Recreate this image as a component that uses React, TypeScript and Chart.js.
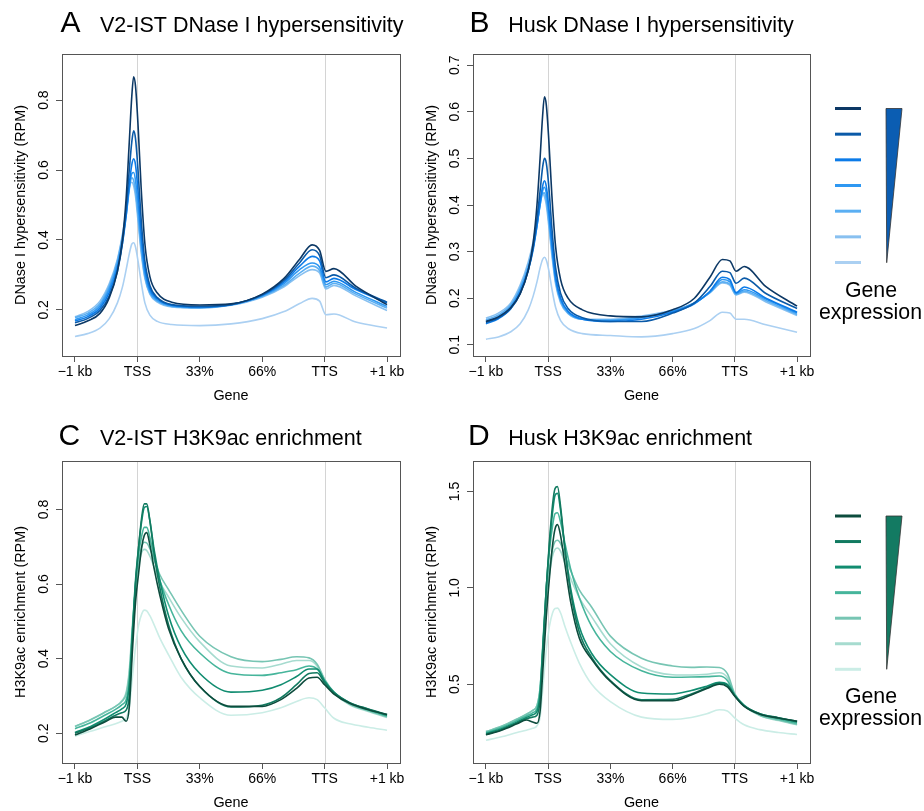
import React, { useEffect, useRef } from "react";
import { Chart, registerables } from "chart.js";
Chart.register(...registerables);

// ---------- data ----------
const xTickValues = [0, 1, 2, 3, 4, 5];
const xTickLabels = ["\u22121 kb", "TSS", "33%", "66%", "TTS", "+1 kb"];

// positions along the meta-gene (0 = -1 kb, 1 = TSS, 4 = TTS, 5 = +1 kb)
const dnasePos = [0, 0.2, 0.4, 0.55, 0.68, 0.76, 0.82, 0.87, 0.91, 0.94, 0.97, 1.01, 1.06, 1.12, 1.2, 1.32, 1.55, 2.0, 2.5, 3.0, 3.35, 3.6, 3.8, 3.92, 4.02, 4.15, 4.5, 5.0];
const h3k9Pos = [0, 0.25, 0.5, 0.65, 0.75, 0.82, 0.87, 0.92, 0.97, 1.02, 1.07, 1.11, 1.15, 1.2, 1.27, 1.36, 1.5, 1.7, 2.0, 2.5, 3.0, 3.3, 3.55, 3.75, 3.88, 4.0, 4.15, 4.4, 4.7, 5.0];

// A: V2-IST DNase I (highest -> lowest expression)
const v2Dnase1 = [0.155, 0.168, 0.19, 0.235, 0.31, 0.40, 0.52, 0.68, 0.81, 0.867, 0.84, 0.73, 0.55, 0.39, 0.295, 0.248, 0.222, 0.214, 0.217, 0.245, 0.29, 0.345, 0.386, 0.37, 0.31, 0.318, 0.268, 0.215];
const v2Dnase2 = [0.163, 0.175, 0.198, 0.24, 0.31, 0.39, 0.49, 0.6, 0.68, 0.712, 0.69, 0.6, 0.46, 0.34, 0.27, 0.235, 0.215, 0.21, 0.215, 0.243, 0.285, 0.335, 0.372, 0.355, 0.292, 0.3, 0.262, 0.222];
const v2Dnase3 = [0.168, 0.18, 0.205, 0.25, 0.32, 0.39, 0.47, 0.56, 0.615, 0.632, 0.615, 0.54, 0.42, 0.32, 0.26, 0.232, 0.213, 0.208, 0.215, 0.242, 0.28, 0.325, 0.353, 0.34, 0.28, 0.29, 0.258, 0.22];
const v2Dnase4 = [0.172, 0.185, 0.212, 0.26, 0.33, 0.4, 0.47, 0.545, 0.59, 0.593, 0.57, 0.5, 0.395, 0.305, 0.253, 0.228, 0.212, 0.207, 0.216, 0.24, 0.275, 0.315, 0.334, 0.322, 0.272, 0.282, 0.25, 0.21];
const v2Dnase5 = [0.178, 0.19, 0.218, 0.268, 0.34, 0.41, 0.48, 0.55, 0.578, 0.57, 0.54, 0.47, 0.375, 0.295, 0.248, 0.225, 0.21, 0.206, 0.214, 0.238, 0.27, 0.305, 0.325, 0.312, 0.265, 0.276, 0.245, 0.205];
const v2Dnase6 = [0.18, 0.195, 0.225, 0.275, 0.345, 0.415, 0.485, 0.55, 0.565, 0.555, 0.525, 0.455, 0.365, 0.29, 0.245, 0.222, 0.208, 0.205, 0.213, 0.236, 0.266, 0.298, 0.315, 0.305, 0.26, 0.27, 0.24, 0.198];
const v2Dnase7 = [0.124, 0.132, 0.148, 0.175, 0.22, 0.265, 0.315, 0.36, 0.388, 0.392, 0.38, 0.34, 0.28, 0.22, 0.185, 0.167, 0.158, 0.155, 0.16, 0.175, 0.195, 0.218, 0.233, 0.225, 0.186, 0.188, 0.165, 0.148];

// B: Husk DNase I
const huskDnase1 = [0.15, 0.16, 0.18, 0.21, 0.26, 0.32, 0.40, 0.5, 0.59, 0.632, 0.615, 0.54, 0.42, 0.31, 0.24, 0.2, 0.175, 0.162, 0.16, 0.175, 0.2, 0.245, 0.283, 0.28, 0.258, 0.268, 0.225, 0.183];
const huskDnase2 = [0.148, 0.158, 0.178, 0.21, 0.26, 0.31, 0.37, 0.43, 0.48, 0.5, 0.49, 0.44, 0.35, 0.265, 0.21, 0.178, 0.158, 0.15, 0.15, 0.168, 0.19, 0.225, 0.258, 0.255, 0.232, 0.243, 0.21, 0.178];
const huskDnase3 = [0.145, 0.156, 0.178, 0.212, 0.26, 0.305, 0.355, 0.405, 0.44, 0.452, 0.44, 0.395, 0.32, 0.245, 0.2, 0.172, 0.155, 0.15, 0.155, 0.17, 0.188, 0.215, 0.245, 0.24, 0.212, 0.224, 0.2, 0.17];
const huskDnase4 = [0.15, 0.16, 0.182, 0.218, 0.265, 0.31, 0.355, 0.4, 0.43, 0.438, 0.425, 0.38, 0.31, 0.24, 0.196, 0.17, 0.155, 0.152, 0.158, 0.172, 0.19, 0.213, 0.24, 0.235, 0.21, 0.218, 0.198, 0.168];
const huskDnase5 = [0.153, 0.164, 0.186, 0.222, 0.27, 0.315, 0.36, 0.4, 0.425, 0.426, 0.41, 0.365, 0.3, 0.235, 0.193, 0.168, 0.155, 0.153, 0.16, 0.172, 0.19, 0.212, 0.235, 0.23, 0.208, 0.215, 0.195, 0.165];
const huskDnase6 = [0.157, 0.168, 0.19, 0.228, 0.278, 0.322, 0.368, 0.41, 0.425, 0.418, 0.4, 0.355, 0.292, 0.23, 0.19, 0.167, 0.155, 0.155, 0.162, 0.174, 0.19, 0.212, 0.233, 0.228, 0.207, 0.213, 0.192, 0.163];
const huskDnase7 = [0.112, 0.117, 0.128, 0.145, 0.175, 0.205, 0.235, 0.265, 0.283, 0.288, 0.282, 0.26, 0.22, 0.18, 0.152, 0.135, 0.124, 0.12, 0.117, 0.124, 0.135, 0.152, 0.17, 0.168, 0.155, 0.155, 0.143, 0.127];

// C: V2-IST H3K9ac
const v2H3k1 = [0.195, 0.212, 0.232, 0.243, 0.243, 0.232, 0.27, 0.42, 0.55, 0.63, 0.7, 0.73, 0.738, 0.705, 0.64, 0.57, 0.48, 0.4, 0.325, 0.272, 0.272, 0.29, 0.32, 0.348, 0.35, 0.33, 0.305, 0.28, 0.263, 0.25];
const v2H3k2 = [0.2, 0.215, 0.235, 0.248, 0.255, 0.262, 0.3, 0.45, 0.6, 0.7, 0.78, 0.815, 0.815, 0.77, 0.68, 0.59, 0.49, 0.4, 0.325, 0.27, 0.275, 0.295, 0.33, 0.36, 0.362, 0.335, 0.308, 0.282, 0.265, 0.25];
const v2H3k3 = [0.202, 0.218, 0.24, 0.255, 0.265, 0.278, 0.33, 0.47, 0.61, 0.7, 0.77, 0.805, 0.808, 0.77, 0.69, 0.61, 0.515, 0.43, 0.36, 0.31, 0.315, 0.33, 0.352, 0.372, 0.372, 0.34, 0.31, 0.282, 0.264, 0.248];
const v2H3k4 = [0.212, 0.228, 0.25, 0.264, 0.276, 0.29, 0.34, 0.47, 0.6, 0.68, 0.73, 0.752, 0.752, 0.725, 0.67, 0.61, 0.545, 0.475, 0.415, 0.36, 0.355, 0.362, 0.37, 0.38, 0.372, 0.34, 0.308, 0.28, 0.262, 0.246];
const v2H3k5 = [0.218, 0.236, 0.258, 0.272, 0.285, 0.305, 0.36, 0.48, 0.59, 0.66, 0.7, 0.712, 0.71, 0.695, 0.665, 0.625, 0.585, 0.53, 0.46, 0.405, 0.392, 0.398, 0.405, 0.402, 0.385, 0.345, 0.31, 0.278, 0.26, 0.244];
const v2H3k6 = [0.218, 0.236, 0.258, 0.272, 0.287, 0.31, 0.37, 0.49, 0.59, 0.65, 0.685, 0.693, 0.69, 0.675, 0.645, 0.605, 0.565, 0.51, 0.445, 0.38, 0.375, 0.385, 0.395, 0.395, 0.38, 0.342, 0.308, 0.276, 0.258, 0.242];
const v2H3k7 = [0.192, 0.205, 0.218, 0.225, 0.232, 0.24, 0.27, 0.35, 0.43, 0.49, 0.52, 0.53, 0.528, 0.515, 0.49, 0.455, 0.41, 0.35, 0.295, 0.248, 0.255, 0.268, 0.285, 0.295, 0.29, 0.268, 0.24, 0.225, 0.216, 0.208];

// D: Husk H3K9ac
const huskH3k1 = [0.238, 0.262, 0.295, 0.315, 0.305, 0.298, 0.36, 0.6, 0.85, 1.05, 1.22, 1.305, 1.328, 1.27, 1.12, 0.93, 0.74, 0.63, 0.515, 0.415, 0.415, 0.445, 0.478, 0.5, 0.487, 0.438, 0.385, 0.345, 0.325, 0.308];
const huskH3k2 = [0.24, 0.265, 0.3, 0.322, 0.33, 0.34, 0.42, 0.7, 1.0, 1.24, 1.43, 1.515, 1.525, 1.42, 1.2, 0.98, 0.77, 0.64, 0.52, 0.42, 0.422, 0.45, 0.482, 0.505, 0.495, 0.44, 0.388, 0.348, 0.327, 0.308];
const huskH3k3 = [0.245, 0.27, 0.305, 0.328, 0.342, 0.36, 0.45, 0.72, 1.0, 1.22, 1.39, 1.48, 1.49, 1.4, 1.2, 1.0, 0.8, 0.66, 0.55, 0.455, 0.45, 0.468, 0.49, 0.51, 0.5, 0.442, 0.39, 0.348, 0.326, 0.305];
const huskH3k4 = [0.25, 0.276, 0.312, 0.336, 0.352, 0.375, 0.47, 0.74, 1.0, 1.19, 1.32, 1.385, 1.39, 1.34, 1.23, 1.1, 0.95, 0.8, 0.67, 0.57, 0.537, 0.538, 0.54, 0.543, 0.52, 0.445, 0.39, 0.345, 0.32, 0.298];
const huskH3k5 = [0.255, 0.282, 0.32, 0.345, 0.365, 0.39, 0.48, 0.72, 0.95, 1.1, 1.2, 1.24, 1.247, 1.23, 1.17, 1.09, 0.99, 0.9, 0.75, 0.635, 0.595, 0.588, 0.59, 0.587, 0.555, 0.45, 0.392, 0.34, 0.315, 0.292];
const huskH3k6 = [0.255, 0.282, 0.32, 0.345, 0.365, 0.39, 0.48, 0.7, 0.93, 1.07, 1.165, 1.2, 1.207, 1.19, 1.13, 1.05, 0.95, 0.85, 0.71, 0.59, 0.55, 0.548, 0.552, 0.56, 0.535, 0.445, 0.39, 0.338, 0.312, 0.29];
const huskH3k7 = [0.21, 0.228, 0.25, 0.262, 0.272, 0.285, 0.33, 0.5, 0.68, 0.8, 0.87, 0.893, 0.895, 0.87, 0.8, 0.72, 0.61, 0.5, 0.41, 0.33, 0.318, 0.328, 0.347, 0.368, 0.362, 0.325, 0.29, 0.265, 0.25, 0.24];

const blueShades = ["#0c3865", "#0a5aa8", "#0c7be8", "#2f98f2", "#5aaff3", "#88c0f0", "#abd0f2"];
const greenShades = ["#0d4c3d", "#117a60", "#118c70", "#46b59b", "#77c5b3", "#a6dbcf", "#cbede6"];

const yTicksA = [0.2, 0.4, 0.6, 0.8];
const yTicksB = [0.1, 0.2, 0.3, 0.4, 0.5, 0.6, 0.7];
const yTicksC = [0.2, 0.4, 0.6, 0.8];
const yTicksD = [0.5, 1.0, 1.5];
const yLabelsA = ["0.2", "0.4", "0.6", "0.8"];
const yLabelsB = ["0.1", "0.2", "0.3", "0.4", "0.5", "0.6", "0.7"];
const yLabelsC = ["0.2", "0.4", "0.6", "0.8"];
const yLabelsD = ["0.5", "1.0", "1.5"];

// ---------- layout ----------
const W = 924;
const H = 811;
const FAMILY = "'Liberation Sans', Arial, Helvetica, sans-serif";
const Y_AXIS_W = 60;
const X_AXIS_H = 50;

type Legend = { top: number; step: number; apex: number; textY: number; fill: string };
type Panel = {
  l: number; t: number; r: number; b: number;
  yMin: number; yMax: number; yTicks: number[]; yLabels: string[];
  yTitle: string; letter: string; title: string; letterX: number; titleX: number; baseline: number;
  xs: number[]; series: number[][]; colors: string[]; legend?: Legend;
};

const panels: Panel[] = [
  {
    l: 62, t: 54, r: 400, b: 356, yMin: 0.068, yMax: 0.932, yTicks: yTicksA, yLabels: yLabelsA,
    yTitle: "DNase I hypersensitivity (RPM)", letter: "A", title: "V2-IST DNase I hypersensitivity",
    letterX: 60.5, titleX: 100, baseline: 32,
    xs: dnasePos, series: [v2Dnase1, v2Dnase2, v2Dnase3, v2Dnase4, v2Dnase5, v2Dnase6, v2Dnase7], colors: blueShades,
  },
  {
    l: 473, t: 54, r: 810, b: 356, yMin: 0.076, yMax: 0.724, yTicks: yTicksB, yLabels: yLabelsB,
    yTitle: "DNase I hypersensitivity (RPM)", letter: "B", title: "Husk DNase I hypersensitivity",
    letterX: 469.5, titleX: 508.3, baseline: 32,
    xs: dnasePos, series: [huskDnase1, huskDnase2, huskDnase3, huskDnase4, huskDnase5, huskDnase6, huskDnase7], colors: blueShades,
    legend: { top: 108.5, step: 25.67, apex: 262.7, textY: 297, fill: "#0b5db2" },
  },
  {
    l: 62, t: 461, r: 400, b: 763, yMin: 0.12, yMax: 0.93, yTicks: yTicksC, yLabels: yLabelsC,
    yTitle: "H3K9ac enrichment (RPM)", letter: "C", title: "V2-IST H3K9ac enrichment",
    letterX: 58.5, titleX: 100, baseline: 445,
    xs: h3k9Pos, series: [v2H3k1, v2H3k2, v2H3k3, v2H3k4, v2H3k5, v2H3k6, v2H3k7], colors: greenShades,
  },
  {
    l: 473, t: 461, r: 810, b: 763, yMin: 0.092, yMax: 1.658, yTicks: yTicksD, yLabels: yLabelsD,
    yTitle: "H3K9ac enrichment (RPM)", letter: "D", title: "Husk H3K9ac enrichment",
    letterX: 468, titleX: 508.3, baseline: 445,
    xs: h3k9Pos, series: [huskH3k1, huskH3k2, huskH3k3, huskH3k4, huskH3k5, huskH3k6, huskH3k7], colors: greenShades,
    legend: { top: 516, step: 25.55, apex: 669.3, textY: 703.3, fill: "#137a62" },
  },
];

function drawLegend(ctx: CanvasRenderingContext2D, lg: Legend, colors: string[]) {
  ctx.save();
  ctx.lineWidth = 3;
  ctx.lineCap = "butt";
  colors.forEach((c, i) => {
    const y = lg.top + i * lg.step;
    ctx.strokeStyle = c;
    ctx.beginPath();
    ctx.moveTo(835, y);
    ctx.lineTo(861, y);
    ctx.stroke();
  });
  ctx.beginPath();
  ctx.moveTo(886, lg.top);
  ctx.lineTo(902, lg.top);
  ctx.lineTo(886.7, lg.apex);
  ctx.closePath();
  ctx.fillStyle = lg.fill;
  ctx.fill();
  ctx.strokeStyle = "#333";
  ctx.lineWidth = 0.8;
  ctx.stroke();
  ctx.fillStyle = "#000";
  ctx.font = `21.3px ${FAMILY}`;
  ctx.textAlign = "center";
  ctx.textBaseline = "alphabetic";
  ctx.fillText("Gene", 871, lg.textY);
  ctx.fillText("expression", 870.5, lg.textY + 21.7);
  ctx.restore();
}

function makeChart(canvas: HTMLCanvasElement, p: Panel) {
  const decor = {
    id: "decor" + p.letter,
    beforeDatasetsDraw(chart: any) {
      const { ctx, chartArea: ca, scales } = chart;
      ctx.save();
      ctx.strokeStyle = "#d4d4d4";
      ctx.lineWidth = 1;
      for (const v of [1, 4]) {
        const px = Math.round(scales.x.getPixelForValue(v)) + 0.5;
        ctx.beginPath();
        ctx.moveTo(px, ca.top);
        ctx.lineTo(px, ca.bottom);
        ctx.stroke();
      }
      ctx.restore();
    },
    afterDraw(chart: any) {
      const { ctx, chartArea: ca, scales } = chart;
      ctx.save();
      ctx.strokeStyle = "#555";
      ctx.lineWidth = 1;
      ctx.strokeRect(ca.left + 0.5, ca.top + 0.5, ca.right - ca.left, ca.bottom - ca.top);
      ctx.fillStyle = "#000";
      ctx.font = `14px ${FAMILY}`;
      ctx.textAlign = "center";
      ctx.textBaseline = "middle";
      p.yTicks.forEach((v, i) => {
        const py = scales.y.getPixelForValue(v);
        ctx.save();
        ctx.translate(ca.left - 18, py);
        ctx.rotate(-Math.PI / 2);
        ctx.fillText(p.yLabels[i], 0, 0);
        ctx.restore();
      });
      ctx.textAlign = "left";
      ctx.textBaseline = "alphabetic";
      ctx.font = `30px ${FAMILY}`;
      ctx.fillText(p.letter, p.letterX, p.baseline);
      ctx.font = `21.5px ${FAMILY}`;
      ctx.fillText(p.title, p.titleX, p.baseline);
      ctx.restore();
      if (p.legend) drawLegend(ctx, p.legend, p.colors);
    },
  };

  const tickGrid = { display: true, drawOnChartArea: false, drawTicks: true, tickLength: 6, color: "#555", lineWidth: 1 };

  return new Chart(canvas, {
    type: "line",
    data: {
      datasets: p.series.map((s, i) => ({
        data: p.xs.map((x, j) => ({ x, y: s[j] })),
        borderColor: p.colors[i],
        borderWidth: 1.6,
        pointRadius: 0,
        fill: false,
        cubicInterpolationMode: "monotone" as const,
      })),
    },
    options: {
      responsive: false,
      animation: false,
      events: [],
      layout: { padding: { left: p.l - Y_AXIS_W, top: p.t, right: W - p.r, bottom: H - p.b - X_AXIS_H } },
      plugins: { legend: { display: false }, tooltip: { enabled: false }, title: { display: false } },
      scales: {
        x: {
          type: "linear",
          min: -0.208,
          max: 5.208,
          bounds: "data",
          afterBuildTicks: (s: any) => { s.ticks = xTickValues.map((v) => ({ value: v })); },
          afterFit: (s: any) => { s.height = X_AXIS_H; s.paddingLeft = 0; s.paddingRight = 0; },
          grid: tickGrid,
          border: { display: false },
          ticks: {
            autoSkip: false, maxRotation: 0, minRotation: 0, padding: 2, color: "#000",
            font: { family: FAMILY, size: 14 },
            callback: (_v: any, i: number) => xTickLabels[i],
          },
          title: { display: true, text: "Gene", color: "#000", font: { family: FAMILY, size: 14.4 }, padding: { top: 0, bottom: 1.4 } },
        },
        y: {
          type: "linear",
          min: p.yMin,
          max: p.yMax,
          bounds: "data",
          afterBuildTicks: (s: any) => { s.ticks = p.yTicks.map((v) => ({ value: v })); },
          afterFit: (s: any) => { s.width = Y_AXIS_W; s.paddingTop = 0; s.paddingBottom = 0; },
          grid: tickGrid,
          border: { display: false },
          ticks: { display: false },
          title: { display: true, text: p.yTitle, color: "#000", font: { family: FAMILY, size: 14.4 }, padding: { top: 9.9, bottom: 0 } },
        },
      },
    } as any,
    plugins: [decor],
  });
}

export default function App() {
  const r0 = useRef<HTMLCanvasElement>(null);
  const r1 = useRef<HTMLCanvasElement>(null);
  const r2 = useRef<HTMLCanvasElement>(null);
  const r3 = useRef<HTMLCanvasElement>(null);
  const refs = [r0, r1, r2, r3];

  useEffect(() => {
    const charts = panels.map((p, i) => makeChart(refs[i].current as HTMLCanvasElement, p));
    return () => charts.forEach((c) => c.destroy());
  }, []);

  return (
    <div style={{ position: "absolute", left: 0, top: 0, width: W, height: H, background: "#fff" }}>
      {panels.map((p, i) => (
        <canvas
          key={p.letter}
          ref={refs[i]}
          width={W}
          height={H}
          style={{ position: "absolute", left: 0, top: 0, width: W, height: H }}
        />
      ))}
    </div>
  );
}
